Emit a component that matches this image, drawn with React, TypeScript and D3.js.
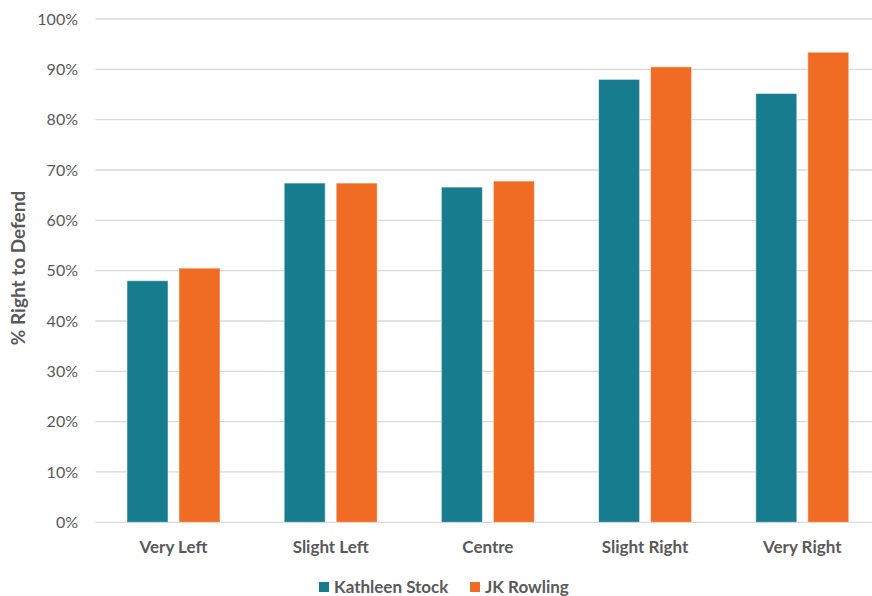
import React from "react";
import * as d3 from "d3";

const categories = ["Very Left", "Slight Left", "Centre", "Slight Right", "Very Right"];
const seriesNames = ["Kathleen Stock", "JK Rowling"];
const kathleenStock = [48.0, 67.4, 66.6, 88.0, 85.2];
const jkRowling = [50.5, 67.4, 67.8, 90.5, 93.4];
const yTicks = [0, 10, 20, 30, 40, 50, 60, 70, 80, 90, 100];
const colors = ["#177C8E", "#F06B23"];

const W = 872;
const H = 596;
const FONT = "Lato, 'Open Sans', sans-serif";

export default function App() {
  const step = 157.2;
  const x0 = 173.5 - step / 2;
  const x = d3.scaleBand<string>().domain(categories).range([x0, x0 + step * 5]).padding(0);
  const pIn = 11 / 52;
  const inner = d3
    .scaleBand<string>()
    .domain(seriesNames)
    .range([0, x.bandwidth()])
    .paddingInner(pIn)
    .paddingOuter((step / 52 - 2 + pIn) / 2);
  const y = d3.scaleLinear().domain([0, 100]).range([522.3, 19]);
  const data = [kathleenStock, jkRowling];

  return (
    <svg width={W} height={H} style={{ position: "absolute", left: 0, top: 0, background: "#fff" }}>
      {yTicks.map((t) => (
        <g key={t}>
          <line x1={95.5} x2={W} y1={y(t)} y2={y(t)} stroke="#d9d9d9" strokeWidth={1.3} />
          <text
            x={78}
            y={y(t)}
            dy="0.35em"
            textAnchor="end"
            fontFamily={FONT}
            fontSize={16}
            fill="#595959"
          >
            {t}%
          </text>
        </g>
      ))}
      {seriesNames.map((s, si) =>
        categories.map((c, ci) => (
          <rect
            key={s + c}
            x={(x(c) as number) + (inner(s) as number)}
            y={y(data[si][ci])}
            width={inner.bandwidth()}
            height={y(0) - y(data[si][ci])}
            fill={colors[si]}
            stroke="rgba(255,255,255,0.5)"
            strokeWidth={1}
          />
        ))
      )}
      {categories.map((c) => (
        <text
          key={c}
          x={(x(c) as number) + x.bandwidth() / 2}
          y={553}
          textAnchor="middle"
          fontFamily={FONT}
          fontWeight="bold"
          fontSize={17}
          fill="#595959"
        >
          {c}
        </text>
      ))}
      <text
        transform={`translate(25,268) rotate(-90)`}
        textAnchor="middle"
        fontFamily={FONT}
        fontWeight="bold"
        fontSize={19}
        fill="#595959"
      >
        % Right to Defend
      </text>
      {seriesNames.map((s, i) => {
        const lx = i === 0 ? 319 : 470;
        return (
          <g key={s}>
            <rect x={lx} y={582} width={10} height={10} fill={colors[i]} />
            <text
              x={lx + 15}
              y={593}
              fontFamily={FONT}
              fontWeight="bold"
              fontSize={17}
              fill="#595959"
            >
              {s}
            </text>
          </g>
        );
      })}
    </svg>
  );
}
